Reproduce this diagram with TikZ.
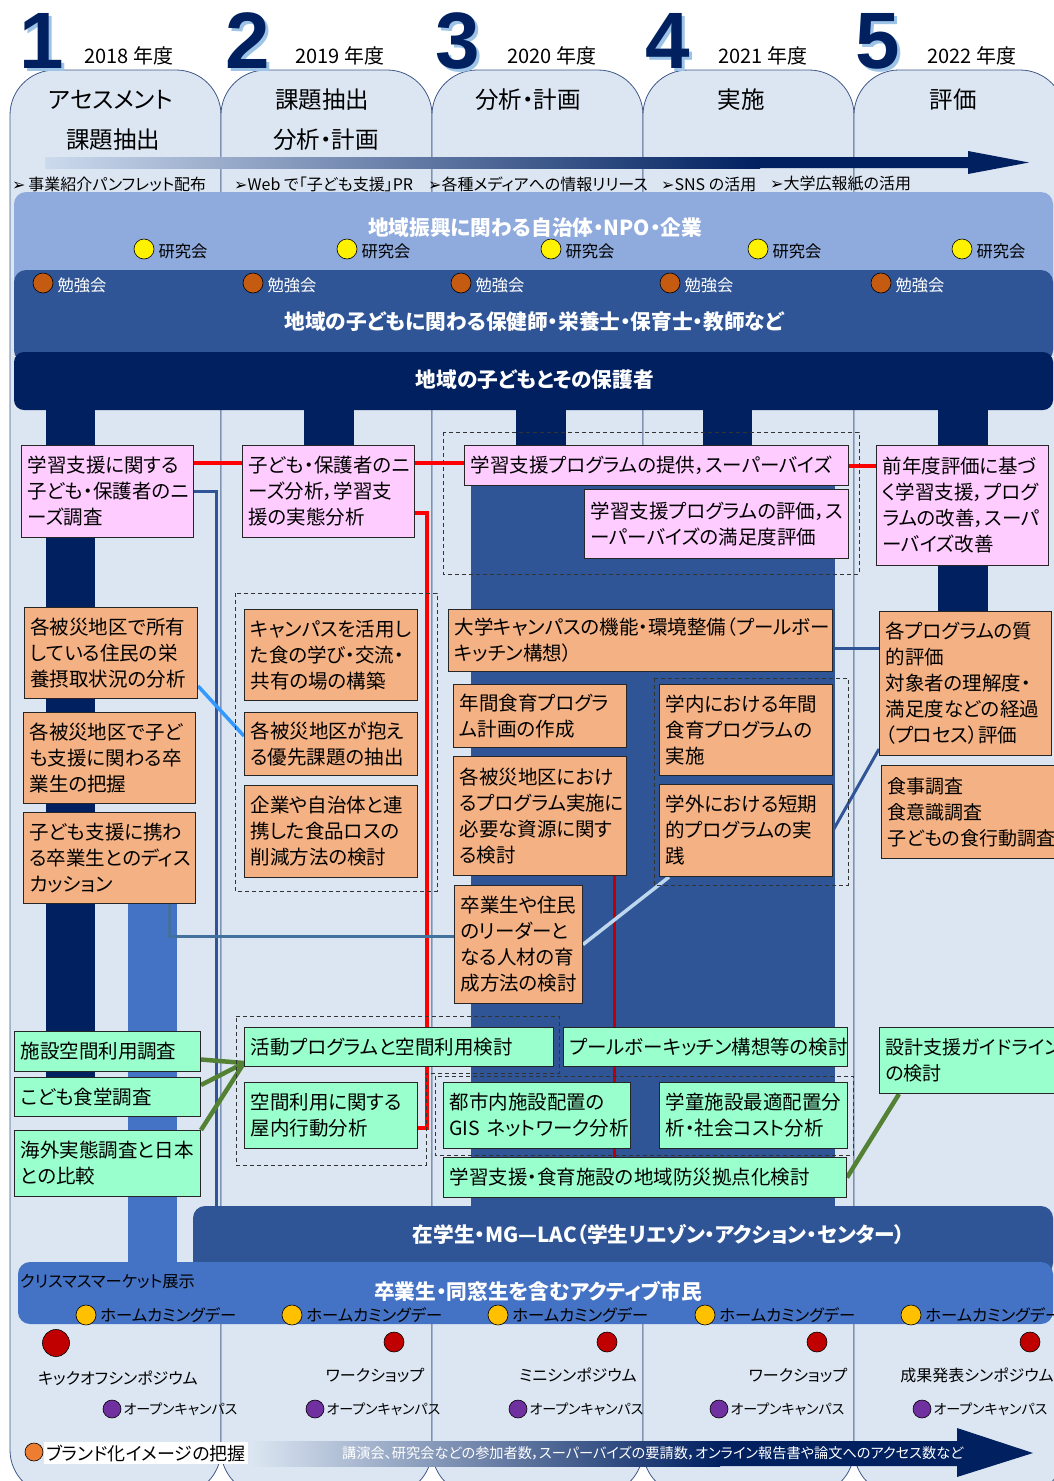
\documentclass[tikz,border=0pt]{standalone}
\usepackage{fontspec}
\setmainfont{Noto Sans CJK JP}[RawFeature=+palt]
\newfontfamily\numfont{Liberation Sans}
\newfontfamily\arrowfont{DejaVu Sans}
\usetikzlibrary{calc}
\pgfdeclarelayer{back}
\pgfdeclarelayer{links}
\pgfsetlayers{back,links,main}

\definecolor{colbg}{HTML}{DCE6F2}
\definecolor{navy}{HTML}{002060}
\definecolor{midblue}{HTML}{2F5597}
\definecolor{brightblue}{HTML}{4472C4}
\definecolor{paleband}{HTML}{8FAADC}
\definecolor{boxpink}{HTML}{FFCCFF}
\definecolor{boxorange}{HTML}{F4B183}
\definecolor{boxgreen}{HTML}{99FFCC}
\definecolor{darkred}{HTML}{C00000}
\definecolor{gold}{HTML}{FFC000}
\definecolor{studybrown}{HTML}{C55A11}
\definecolor{ocpurple}{HTML}{7030A0}
\definecolor{brandorange}{HTML}{ED7D31}
\definecolor{linkgreen}{HTML}{548235}
\definecolor{skyline}{HTML}{3399FF}
\definecolor{paleline}{HTML}{BDD7EE}
\definecolor{steelline}{HTML}{41719C}
\definecolor{numshadow}{HTML}{9DC3E6}

\tikzset{
  yearcol/.style={fill=colbg, draw=navy!75, line width=0.8pt, rounded corners=45pt},
  bignum/.style={font=\numfont\bfseries\fontsize{80}{80}\selectfont, text=navy, inner sep=0pt},
  yearlabel/.style={font=\fontsize{20}{22}\selectfont, inner sep=0pt},
  phase/.style={font=\fontsize{23.5}{26}\selectfont, inner sep=0pt},
  prtext/.style={font=\fontsize{16}{18}\selectfont, anchor=west, inner sep=0pt},
  bandtitle/.style={font=\bfseries\fontsize{20.7}{23}\selectfont, text=white, inner sep=0pt},
  dot/.style={circle, draw=black, line width=0.6pt, minimum size=20pt, inner sep=0pt},
  dotlabel/.style={font=\fontsize{16.3}{18}\selectfont, anchor=west, inner sep=0pt},
  eventlabel/.style={font=\fontsize{16}{18}\selectfont, inner sep=0pt},
  box/.style={draw=black!85, line width=1pt, anchor=north west, inner xsep=6pt, inner ysep=2pt,
    align=left, font=\fontsize{19.5}{26}\selectfont},
  pinkbox/.style={box, fill=boxpink},
  orangebox/.style={box, fill=boxorange},
  greenbox/.style={box, fill=boxgreen},
  dashframe/.style={draw=black!80, line width=0.8pt, dash pattern=on 4pt off 3pt},
  redlink/.style={draw=red, line width=4pt},
  bluelink/.style={draw=midblue, line width=3pt},
  greenlink/.style={draw=linkgreen, line width=4.5pt},
}

\begin{document}
\begin{tikzpicture}[x=1pt,y=-1pt]
\useasboundingbox (0,0) rectangle (1054,1481);

\begin{pgfonlayer}{back}
        % five year columns
        \draw[yearcol] (10,70) rectangle (221,1495);
        \draw[yearcol] (221,70) rectangle (432,1495);
        \draw[yearcol] (432,70) rectangle (643,1495);
        \draw[yearcol] (643,70) rectangle (854,1495);
        \draw[yearcol] (854,70) rectangle (1065,1495);

        % vertical bars
        \fill[navy] (46,400) rectangle (95,1080);
        \fill[navy] (304,400) rectangle (354,450);
        \fill[navy] (516,400) rectangle (566,450);
        \fill[navy] (703,400) rectangle (752,450);
        \fill[navy] (938,400) rectangle (988,615);
        \fill[midblue] (471,450) rectangle (835,1215);
        \fill[brightblue] (128,880) rectangle (177,1270);

        % bands
        \fill[paleband, rounded corners=12pt] (14,192) rectangle (1053,362);
        \fill[midblue, rounded corners=12pt] (14,270) rectangle (1053,362);
        \fill[navy, rounded corners=10pt] (14,352) rectangle (1053,410);
        \fill[midblue, rounded corners=12pt] (193,1206) rectangle (1053,1275);
        \fill[brightblue, rounded corners=12pt] (18,1262) rectangle (1053,1324);
\end{pgfonlayer}

        % year headers
        \node[bignum, text=numshadow] (n1s) at (45,44) {1};
        \node[bignum] (n1) at (42,41) {1};
        \node[bignum, text=numshadow] (n2s) at (251,44) {2};
        \node[bignum] (n2) at (248,41) {2};
        \node[bignum, text=numshadow] (n3s) at (461,44) {3};
        \node[bignum] (n3) at (458,41) {3};
        \node[bignum, text=numshadow] (n4s) at (671,44) {4};
        \node[bignum] (n4) at (668,41) {4};
        \node[bignum, text=numshadow] (n5s) at (881,44) {5};
        \node[bignum] (n5) at (878,41) {5};
        \node[yearlabel] (y1) at (129,56) {2018 年度};
        \node[yearlabel] (y2) at (340,56) {2019 年度};
        \node[yearlabel] (y3) at (552,56) {2020 年度};
        \node[yearlabel] (y4) at (763,56) {2021 年度};
        \node[yearlabel] (y5) at (972,56) {2022 年度};
        \node[phase] (t1a) at (111,100) {アセスメント};
        \node[phase] (t1b) at (113,140) {課題抽出};
        \node[phase] (t2a) at (322,100) {課題抽出};
        \node[phase] (t2b) at (326,140) {分析・計画};
        \node[phase] (t3a) at (528,100) {分析・計画};
        \node[phase] (t4a) at (741,100) {実施};
        \node[phase] (t5a) at (953,100) {評価};

        % publicity arrow
        \shade[left color=colbg!80!paleband, right color=navy] (45,157) rectangle (760,168);
        \fill[navy] (759,157) -- (968,157) -- (968,151) -- (1029,162.5) -- (968,174) -- (968,168) -- (759,168) -- cycle;
        \node[prtext] (pr1) at (12,184) {{\arrowfont ➢}\,事業紹介パンフレット配布};
        \node[prtext] (pr2) at (234,184) {{\arrowfont ➢}Web で「子ども支援」PR};
        \node[prtext] (pr3) at (428,184) {{\arrowfont ➢}各種メディアへの情報リリース};
        \node[prtext] (pr4) at (661,184) {{\arrowfont ➢}SNS の活用};
        \node[prtext] (pr5) at (770,184) {{\arrowfont ➢}大学広報紙の活用};

        % band titles and meetings
        \node[bandtitle] (bandA) at (535,228) {地域振興に関わる自治体・NPO・企業};
        \node[bandtitle] (bandB) at (534,322) {地域の子どもに関わる保健師・栄養士・保育士・教師など};
        \node[bandtitle] (bandC) at (535,380) {地域の子どもとその保護者};
        \node[dot, fill=yellow] (r1) at (144,249) {}; \node[dotlabel] (r1t) at ([xshift=4pt,yshift=-2pt]r1.east) {研究会};
        \node[dot, fill=yellow] (r2) at (347,249) {}; \node[dotlabel] (r2t) at ([xshift=4pt,yshift=-2pt]r2.east) {研究会};
        \node[dot, fill=yellow] (r3) at (551,249) {}; \node[dotlabel] (r3t) at ([xshift=4pt,yshift=-2pt]r3.east) {研究会};
        \node[dot, fill=yellow] (r4) at (758,249) {}; \node[dotlabel] (r4t) at ([xshift=4pt,yshift=-2pt]r4.east) {研究会};
        \node[dot, fill=yellow] (r5) at (962,249) {}; \node[dotlabel] (r5t) at ([xshift=4pt,yshift=-2pt]r5.east) {研究会};
        \node[dot, fill=studybrown] (s1) at (43,283) {}; \node[dotlabel, text=white] (s1t) at ([xshift=4pt,yshift=-2pt]s1.east) {勉強会};
        \node[dot, fill=studybrown] (s2) at (253,283) {}; \node[dotlabel, text=white] (s2t) at ([xshift=4pt,yshift=-2pt]s2.east) {勉強会};
        \node[dot, fill=studybrown] (s3) at (461,283) {}; \node[dotlabel, text=white] (s3t) at ([xshift=4pt,yshift=-2pt]s3.east) {勉強会};
        \node[dot, fill=studybrown] (s4) at (670,283) {}; \node[dotlabel, text=white] (s4t) at ([xshift=4pt,yshift=-2pt]s4.east) {勉強会};
        \node[dot, fill=studybrown] (s5) at (881,283) {}; \node[dotlabel, text=white] (s5t) at ([xshift=4pt,yshift=-2pt]s5.east) {勉強会};

        % dashed groups
        \draw[dashframe] (443,432) rectangle (859,574);
        \draw[dashframe] (235,593) rectangle (437,891);
        \draw[dashframe] (654,678) rectangle (848,885);
        \draw[dashframe] (236,1016) -- (559,1016) -- (559,1073) -- (426,1073) -- (426,1165) -- (236,1165) -- cycle;
        \draw[dashframe] (435,1076) rectangle (853,1155);

        % learning support
        \node[pinkbox, minimum width=172pt, minimum height=92pt, text width=160pt] (P1) at (21,445) {学習支援に関する\\子ども・保護者のニ\\ーズ調査};
        \node[pinkbox, minimum width=172pt, minimum height=92pt, text width=160pt] (P2) at (242,445) {子ども・保護者のニ\\ーズ分析，学習支\\援の実態分析};
        \node[pinkbox, minimum width=384pt, minimum height=40pt, text width=372pt] (P3) at (464,445) {学習支援プログラムの提供，スーパーバイズ};
        \node[pinkbox, minimum width=264pt, minimum height=69pt, text width=252pt] (P4) at (584,489) {学習支援プログラムの評価，ス\\ーパーバイズの満足度評価};
        \node[pinkbox, minimum width=172pt, minimum height=120pt, text width=160pt] (P5) at (876,445) {前年度評価に基づ\\く学習支援，プログ\\ラムの改善，スーパ\\ーバイズ改善};

        % food education
        \node[orangebox, minimum width=173pt, minimum height=91pt, text width=161pt] (O1) at (24,607) {各被災地区で所有\\している住民の栄\\養摂取状況の分析};
        \node[orangebox, minimum width=172pt, minimum height=91pt, text width=160pt] (O2) at (23,712) {各被災地区で子ど\\も支援に関わる卒\\業生の把握};
        \node[orangebox, minimum width=172pt, minimum height=91pt, text width=160pt] (O3) at (23,812) {子ども支援に携わ\\る卒業生とのディス\\カッション};
        \node[orangebox, minimum width=173pt, minimum height=91pt, text width=161pt] (O4) at (244,609) {キャンパスを活用し\\た食の学び・交流・\\共有の場の構築};
        \node[orangebox, minimum width=173pt, minimum height=63pt, text width=161pt] (O5) at (244,712) {各被災地区が抱え\\る優先課題の抽出};
        \node[orangebox, minimum width=173pt, minimum height=92pt, text width=161pt] (O6) at (244,785) {企業や自治体と連\\携した食品ロスの\\削減方法の検討};
        \node[orangebox, minimum width=384pt, minimum height=62pt, text width=372pt] (O7) at (448,609) {大学キャンパスの機能・環境整備（プールボー\\キッチン構想）};
        \node[orangebox, minimum width=173pt, minimum height=63pt, text width=161pt] (O8) at (453,684) {年間食育プログラ\\ム計画の作成};
        \node[orangebox, minimum width=173pt, minimum height=119pt, text width=161pt] (O9) at (453,756) {各被災地区におけ\\るプログラム実施に\\必要な資源に関す\\る検討};
        \node[orangebox, minimum width=173pt, minimum height=91pt, text width=161pt] (O10) at (659,684) {学内における年間\\食育プログラムの\\実施};
        \node[orangebox, minimum width=173pt, minimum height=92pt, text width=161pt] (O11) at (659,784) {学外における短期\\的プログラムの実\\践};
        \node[orangebox, minimum width=128pt, minimum height=118pt, text width=116pt] (O12) at (454,885) {卒業生や住民\\のリーダーと\\なる人材の育\\成方法の検討};
        \node[orangebox, minimum width=172pt, minimum height=144pt, text width=160pt] (O13) at (879,611) {各プログラムの質\\的評価\\対象者の理解度・\\満足度などの経過\\（プロセス）評価};
        \node[orangebox, minimum width=180pt, minimum height=93pt, text width=168pt, font=\fontsize{19}{26}\selectfont] (O14) at (881,765) {食事調査\\食意識調査\\子どもの食行動調査};

        % space planning
        \node[greenbox, minimum width=186pt, minimum height=40pt, text width=174pt] (G1) at (14,1031) {施設空間利用調査};
        \node[greenbox, minimum width=186pt, minimum height=39pt, text width=174pt] (G2) at (14,1077) {こども食堂調査};
        \node[greenbox, minimum width=186pt, minimum height=66pt, text width=174pt] (G3) at (14,1130) {海外実態調査と日本\\との比較};
        \node[greenbox, minimum width=309pt, minimum height=39pt, text width=297pt] (G4) at (244,1027) {活動プログラムと空間利用検討};
        \node[greenbox, minimum width=173pt, minimum height=66pt, text width=161pt] (G5) at (244,1082) {空間利用に関する\\屋内行動分析};
        \node[greenbox, minimum width=284pt, minimum height=39pt, text width=272pt] (G6) at (563,1027) {プールボーキッチン構想等の検討};
        \node[greenbox, minimum width=187pt, minimum height=66pt, text width=175pt] (G7) at (443,1082) {都市内施設配置の\\\mbox{GIS ネットワーク分析}};
        \node[greenbox, minimum width=188pt, minimum height=66pt, text width=176pt] (G8) at (659,1082) {学童施設最適配置分\\析・社会コスト分析};
        \node[greenbox, minimum width=403pt, minimum height=40pt, text width=391pt] (G9) at (443,1157) {学習支援・食育施設の地域防災拠点化検討};
        \node[greenbox, minimum width=180pt, minimum height=66pt, text width=168pt, font=\fontsize{19}{26}\selectfont] (G10) at (879,1027) {設計支援ガイドライン\\の検討};

        % connectors
\begin{pgfonlayer}{links}
        \coordinate (lacTop) at (216,1207);
        \coordinate (o7r) at ([yshift=-8pt]O7.east);
        \coordinate (p2r) at ([yshift=29pt]P2.east);
        \draw[redlink] ([yshift=29pt]P1.east) -- ([yshift=29pt]P2.west);
        \draw[redlink] (p2r) -- (p2r -| P3.west);
        \draw[redlink] (P3.east) -- (P3.east -| P5.west);
        \draw[redlink] ([yshift=-21pt]P2.east) -| ([xshift=9pt,yshift=-12pt]G5.east) -- ([yshift=-12pt]G5.east);
        \draw[darkred, line width=3pt] ([xshift=-13pt]O9.south east) -- ++(0,282);
        \draw[bluelink] (P1.east) -| (lacTop);
        \draw[skyline, line width=3.5pt] ([yshift=13pt]O1.south east) -- ([yshift=8pt]O5.west);
        \draw[steelline, line width=3pt] ([xshift=-27pt]O3.south east) |- ([yshift=8pt]O12.west);
        \draw[paleline, line width=3.5pt] (O12.east) -- ([xshift=10pt]O11.south west);
        \draw[bluelink] (o7r) -- (o7r -| O13.west);
        \draw[bluelink] (O11.east) -- ([yshift=7pt]O13.south west);
        \draw[greenlink] ([yshift=-8pt]G1.east) -- ([yshift=4pt]G4.south west);
        \draw[greenlink] ([yshift=-8pt]G2.north east) -- ([yshift=4pt]G4.south west);
        \draw[greenlink] (G3.north east) -- ([yshift=4pt]G4.south west);
        \draw[greenlink] (G9.east) -- ([xshift=20pt]G10.south west);
\end{pgfonlayer}

        % student and citizen bands
        \node[bandtitle] (bandD) at (659,1234) {在学生・MG—LAC（学生リエゾン・アクション・センター）};
        \node[bandtitle] (bandE) at (538,1291) {卒業生・同窓生を含むアクティブ市民};
        \node[dotlabel] (xmas) at (20,1282) {クリスマスマーケット展示};
        \node[dot, fill=gold] (h1) at (86,1315) {}; \node[dotlabel] (h1t) at ([xshift=4pt]h1.east) {ホームカミングデー};
        \node[dot, fill=gold] (h2) at (292,1315) {}; \node[dotlabel] (h2t) at ([xshift=4pt]h2.east) {ホームカミングデー};
        \node[dot, fill=gold] (h3) at (498,1315) {}; \node[dotlabel] (h3t) at ([xshift=4pt]h3.east) {ホームカミングデー};
        \node[dot, fill=gold] (h4) at (705,1315) {}; \node[dotlabel] (h4t) at ([xshift=4pt]h4.east) {ホームカミングデー};
        \node[dot, fill=gold] (h5) at (911,1315) {}; \node[dotlabel] (h5t) at ([xshift=4pt]h5.east) {ホームカミングデー};

        % events
        \node[dot, fill=darkred, minimum size=27pt] (e1) at (56,1343) {};
        \node[dot, fill=darkred] (e2) at (394,1342) {};
        \node[dot, fill=darkred] (e3) at (607,1342) {};
        \node[dot, fill=darkred] (e4) at (817,1342) {};
        \node[dot, fill=darkred] (e5) at (1030,1342) {};
        \node[eventlabel] (e1t) at (118,1378) {キックオフシンポジウム};
        \node[eventlabel] (e2t) at (375,1375) {ワークショップ};
        \node[eventlabel] (e3t) at (578,1375) {ミニシンポジウム};
        \node[eventlabel] (e4t) at (798,1375) {ワークショップ};
        \node[eventlabel] (e5t) at (977,1375) {成果発表シンポジウム};
        \node[dot, fill=ocpurple, minimum size=18pt] (c1) at (112,1409) {}; \node[dotlabel, font=\fontsize{14}{16}\selectfont] (c1t) at ([xshift=2pt]c1.east) {オープンキャンパス};
        \node[dot, fill=ocpurple, minimum size=18pt] (c2) at (315,1409) {}; \node[dotlabel, font=\fontsize{14}{16}\selectfont] (c2t) at ([xshift=2pt]c2.east) {オープンキャンパス};
        \node[dot, fill=ocpurple, minimum size=18pt] (c3) at (518,1409) {}; \node[dotlabel, font=\fontsize{14}{16}\selectfont] (c3t) at ([xshift=2pt]c3.east) {オープンキャンパス};
        \node[dot, fill=ocpurple, minimum size=18pt] (c4) at (719,1409) {}; \node[dotlabel, font=\fontsize{14}{16}\selectfont] (c4t) at ([xshift=2pt]c4.east) {オープンキャンパス};
        \node[dot, fill=ocpurple, minimum size=18pt] (c5) at (922,1409) {}; \node[dotlabel, font=\fontsize{14}{16}\selectfont] (c5t) at ([xshift=2pt]c5.east) {オープンキャンパス};

        % outcome arrow
        \shade[left color=colbg, right color=navy] (250,1441) rectangle (720,1466);
        \fill[navy] (719,1441) -- (957,1441) -- (957,1428) -- (1033,1453) -- (957,1477) -- (957,1466) -- (719,1466) -- cycle;
        \node[anchor=west, inner sep=0pt, text=white, font=\fontsize{14.2}{16}\selectfont] (kpi) at (342,1453) {講演会、研究会などの参加者数，スーパーバイズの要請数，オンライン報告書や論文へのアクセス数など};
        \node[anchor=west, fill=white, inner xsep=2pt, inner ysep=3pt, font=\fontsize{18}{20}\selectfont] (brand) at (44,1453) {ブランド化イメージの把握};
        \node[dot, fill=brandorange, minimum size=18pt] (bd) at (34,1452) {};

\end{tikzpicture}
\end{document}
